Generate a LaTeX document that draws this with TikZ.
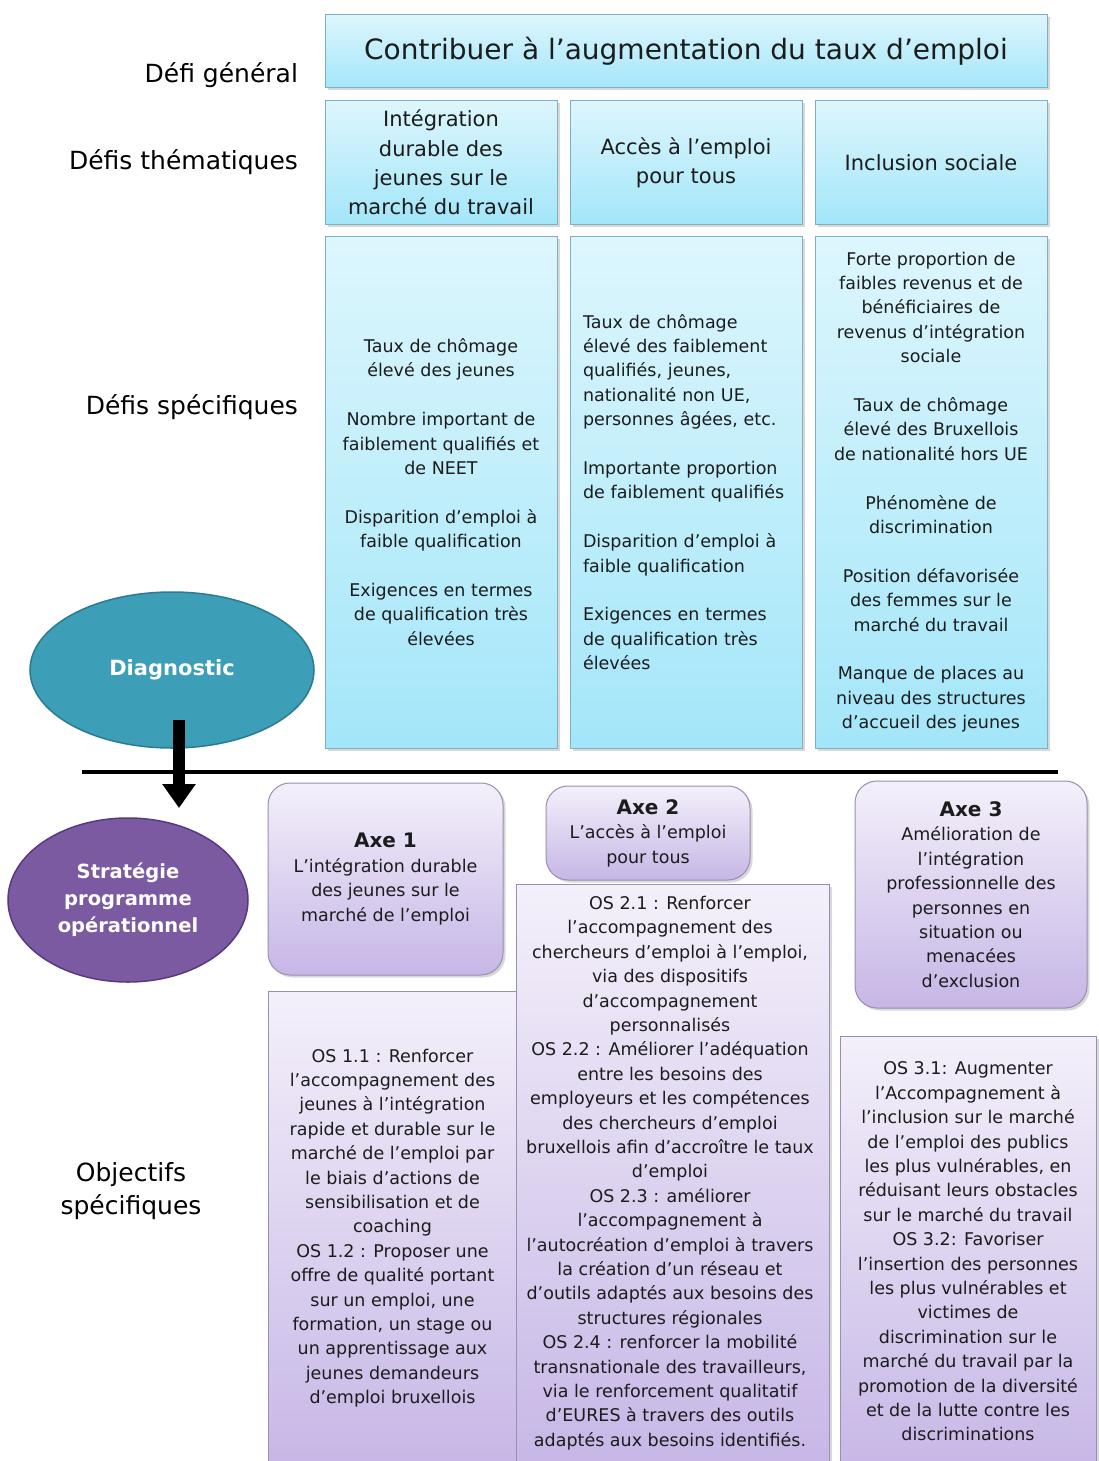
\documentclass[tikz,border=0pt]{standalone}
\usepackage{fontspec}
\setmainfont{DejaVu Sans}
\usetikzlibrary{shapes.geometric,shadows,arrows.meta}
\definecolor{cyTop}{HTML}{DDF6FD}
\definecolor{cyBot}{HTML}{A3E6F9}
\definecolor{cyLine}{HTML}{7FAFC0}
\definecolor{lvTop}{HTML}{F4F0FA}
\definecolor{lvBot}{HTML}{C6B6E6}
\definecolor{lvLine}{HTML}{9890B0}
\definecolor{diagFill}{HTML}{3C9EB7}
\definecolor{diagLine}{HTML}{2A7C90}
\definecolor{stratFill}{HTML}{7B5AA2}
\definecolor{stratLine}{HTML}{583B7F}
\definecolor{txtc}{HTML}{1C1C1C}
\newcommand{\fbody}{\fontsize{17.5}{24.4}\selectfont}
\newcommand{\frow}{\fontsize{21}{29.3}\selectfont}
\newcommand{\flabel}{\fontsize{25}{33}\selectfont}
\newcommand{\ftitle}{\fontsize{28}{34}\selectfont}
\newcommand{\faxe}{\fontsize{20}{27}\selectfont\bfseries}
\begin{document}
\begin{tikzpicture}[x=1pt,y=-1pt,
  every node/.style={text=txtc, inner sep=0pt, outer sep=0pt},
  cybox/.style={draw=cyLine, line width=1pt, top color=cyTop, bottom color=cyBot,
    drop shadow={shadow xshift=2.5pt, shadow yshift=-2.5pt, opacity=0.3}},
  lvbox/.style={draw=lvLine, line width=1pt, top color=lvTop, bottom color=lvBot,
    drop shadow={shadow xshift=2.5pt, shadow yshift=-2.5pt, opacity=0.3}},
  axebox/.style={lvbox, rounded corners=22pt, align=center, font=\fbody},
  lbl/.style={anchor=east, font=\flabel, text=black},
  bodytxt/.style={font=\fbody, align=center}
]
\useasboundingbox (0,0) rectangle (1099,1461);
\clip (0,0) rectangle (1099,1461);
\fill[white] (0,0) rectangle (1099,1461);

% left labels
\node[lbl] (lg) at (298,75) {Défi général};
\node[lbl] (lt) at (298,162) {Défis thématiques};
\node[lbl] (ls) at (298,407) {Défis spécifiques};
\node[font=\flabel, align=center, text=black] (lo) at (131,1191) {Objectifs\\spécifiques};

% title
\node[cybox, minimum width=722pt, minimum height=73pt, font=\ftitle] (title) at (686,51.5)
  {Contribuer à l’augmentation du taux d’emploi};

% thematic row
\node[cybox, minimum width=232pt, minimum height=123pt, font=\frow, align=center] (t1) at (441,162.5)
  {Intégration\\durable des\\jeunes sur le\\marché du travail};
\node[cybox, minimum width=232pt, minimum height=123pt, font=\frow, align=center] (t2) at (686,162.5)
  {Accès à l’emploi\\pour tous};
\node[cybox, minimum width=232pt, minimum height=123pt, font=\frow, align=center] (t3) at (931,162.5)
  {Inclusion sociale};

% specific row
\node[cybox, minimum width=232pt, minimum height=512pt, font=\fbody, align=center] (s1) at (441,492)
  {Taux de chômage\\élevé des jeunes\\[24.4pt]
   Nombre important de\\faiblement qualifiés et\\de NEET\\[24.4pt]
   Disparition d’emploi à\\faible qualification\\[24.4pt]
   Exigences en termes\\de qualification très\\élevées};
\node[cybox, minimum width=232pt, minimum height=512pt, font=\fbody, align=left,
      text width=206pt, inner xsep=13pt] (s2) at (686,492)
  {Taux de chômage\\élevé des faiblement\\qualifiés, jeunes,\\nationalité non UE,\\personnes âgées, etc.\\[24.4pt]
   Importante proportion\\de faiblement qualifiés\\[24.4pt]
   Disparition d’emploi à\\faible qualification\\[24.4pt]
   Exigences en termes\\de qualification très\\élevées};
\node[cybox, minimum width=232pt, minimum height=512pt, font=\fbody, align=center] (s3) at (931,492)
  {Forte proportion de\\faibles revenus et de\\bénéficiaires de\\revenus d’intégration\\sociale\\[24.4pt]
   Taux de chômage\\élevé des Bruxellois\\de nationalité hors UE\\[24.4pt]
   Phénomène de\\discrimination\\[24.4pt]
   Position défavorisée\\des femmes sur le\\marché du travail\\[24.4pt]
   Manque de places au\\niveau des structures\\d’accueil des jeunes};

% ellipses
\node[ellipse, draw=diagLine, line width=1.5pt, fill=diagFill, minimum width=284pt, minimum height=156pt,
      font=\fontsize{21}{26}\selectfont\bfseries, text=white] (diag) at (172,670) {Diagnostic};
\node[ellipse, draw=stratLine, line width=1.5pt, fill=stratFill, minimum width=240pt, minimum height=164pt,
      font=\fontsize{19.5}{27}\selectfont\bfseries, text=white, align=center] (strat) at (128,900)
  {Stratégie\\programme\\opérationnel};

% separator line
\coordinate (sepL) at (82,772);
\coordinate (sepR) at (1058,772);
\draw[line width=3.5pt, black] (sepL) -- (sepR);

% arrow
\draw[line width=12pt, black, -{Triangle[width=32pt,length=24pt]}]
  ([xshift=7pt,yshift=-50pt]diag.center) -- ([xshift=51pt,yshift=92pt]strat.center);

% OS boxes
\node[lvbox, minimum width=249pt, minimum height=480pt, anchor=north west] (os1) at (268,991) {};
\node[lvbox, minimum width=313pt, minimum height=590pt, anchor=north west] (os2) at (516,884) {};
\node[lvbox, minimum width=256pt, minimum height=440pt, anchor=north west] (os3) at (840,1036) {};

% axes
\node[axebox, minimum width=235pt, minimum height=192pt] (axe1) at (385.5,879)
  {{\faxe Axe 1}\\L’intégration durable\\des jeunes sur le\\marché de l’emploi};
\node[axebox, minimum width=204pt, minimum height=94pt] (axe2) at (648,833)
  {{\faxe Axe 2}\\L’accès à l’emploi\\pour tous};
\node[axebox, minimum width=232pt, minimum height=227pt] (axe3) at (971,894.5)
  {{\faxe Axe 3}\\Amélioration de\\l’intégration\\professionnelle des\\personnes en\\situation ou\\menacées\\d’exclusion};

% OS texts
\node[bodytxt] (os1t) at (392.5,1228)
  {OS 1.1 : Renforcer\\l’accompagnement des\\jeunes à l’intégration\\rapide et durable sur le\\marché de l’emploi par\\le biais d’actions de\\sensibilisation et de\\coaching\\
   OS 1.2 : Proposer une\\offre de qualité portant\\sur un emploi, une\\formation, un stage ou\\un apprentissage aux\\jeunes demandeurs\\d’emploi bruxellois};
\node[bodytxt] (os2t) at (670,1173)
  {OS 2.1 : Renforcer\\l’accompagnement des\\chercheurs d’emploi à l’emploi,\\via des dispositifs\\d’accompagnement\\personnalisés\\
   OS 2.2 : Améliorer l’adéquation\\entre les besoins des\\employeurs et les compétences\\des chercheurs d’emploi\\bruxellois afin d’accroître le taux\\d’emploi\\
   OS 2.3 : améliorer\\l’accompagnement à\\l’autocréation d’emploi à travers\\la création d’un réseau et\\d’outils adaptés aux besoins des\\structures régionales\\
   OS 2.4 : renforcer la mobilité\\transnationale des travailleurs,\\via le renforcement qualitatif\\d’EURES à travers des outils\\adaptés aux besoins identifiés.};
\node[bodytxt] (os3t) at (968,1251.5)
  {OS 3.1: Augmenter\\l’Accompagnement à\\l’inclusion sur le marché\\de l’emploi des publics\\les plus vulnérables, en\\réduisant leurs obstacles\\sur le marché du travail\\
   OS 3.2: Favoriser\\l’insertion des personnes\\les plus vulnérables et\\victimes de\\discrimination sur le\\marché du travail par la\\promotion de la diversité\\et de la lutte contre les\\discriminations};
\end{tikzpicture}
\end{document}
